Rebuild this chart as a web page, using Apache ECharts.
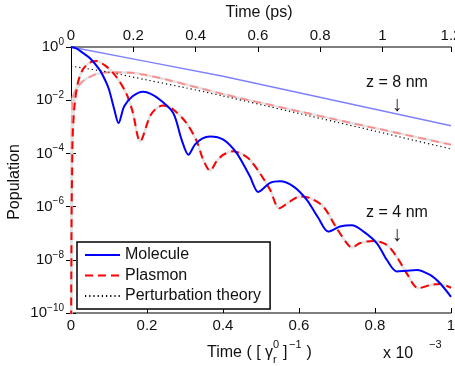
<!DOCTYPE html>
<html><head><meta charset="utf-8">
<script src="https://cdn.jsdelivr.net/npm/echarts@6/dist/echarts.min.js"></script>
<style>html,body{margin:0;padding:0;background:#fff}#c{width:455px;height:366px}</style>
</head><body><div id="c"></div>
<script>
// x in units of 1e-3 [gamma_r^0]^-1 ; y stored as log10(population)
const molecule4X = [0,0.015,0.031,0.05,0.075,0.09,0.10,0.114,0.125,0.14,0.162,0.19,0.21,0.234,0.269,0.291,0.309,0.326,0.345,0.366,0.401,0.436,0.471,0.493,0.524,0.55,0.585,0.62,0.651,0.677,0.708,0.739,0.77,0.805,0.831,0.857,0.883,0.91,0.945,0.971,1.0];
const molecule4Log = [0,-0.06,-0.22,-0.42,-0.85,-1.25,-1.6,-2.35,-2.86,-2.23,-1.85,-1.68,-1.76,-1.98,-2.48,-3.48,-4.05,-3.67,-3.44,-3.36,-3.48,-3.99,-4.87,-5.45,-5.11,-5.05,-5.24,-5.74,-6.43,-6.94,-6.75,-6.70,-6.94,-7.38,-8.0,-8.44,-8.41,-8.38,-8.57,-8.88,-9.39];
const plasmon4X = [0.0004,0.0015,0.003,0.004,0.009,0.018,0.031,0.048,0.066,0.092,0.118,0.145,0.162,0.182,0.208,0.226,0.243,0.269,0.304,0.331,0.348,0.366,0.383,0.401,0.427,0.453,0.471,0.497,0.524,0.548,0.576,0.603,0.629,0.664,0.699,0.726,0.739,0.761,0.796,0.831,0.857,0.883,0.914,0.945,0.971,1.0];
const plasmon4Log = [-10.2,-6.5,-4.6,-3.5,-2.23,-1.35,-0.85,-0.6,-0.53,-0.72,-1.1,-1.73,-2.42,-3.55,-2.6,-2.29,-2.2,-2.35,-2.86,-3.55,-4.24,-4.65,-4.3,-4.05,-3.92,-4.05,-4.24,-4.74,-5.37,-6.06,-5.81,-5.62,-5.68,-6.0,-6.81,-7.38,-7.54,-7.37,-7.29,-7.44,-7.88,-8.5,-9.07,-8.95,-8.91,-9.05];
const molecule8X = [0,0.2,0.4,0.6,0.8,1.0];
const molecule8Log = [0,-0.55,-1.1,-1.72,-2.34,-2.96];
const plasmon8X = [0.0004,0.0015,0.004,0.013,0.031,0.057,0.083,0.11,0.162,0.193,0.25,0.34,0.4,0.5,0.6,0.7,0.8,0.9,1.0];
const plasmon8Log = [-10.2,-4.5,-1.98,-1.6,-1.29,-1.07,-0.97,-0.95,-0.97,-1.04,-1.22,-1.55,-1.77,-2.1,-2.42,-2.74,-3.05,-3.36,-3.67];
const pert8X = [0,0.1,0.2,0.3,0.4,0.5,0.6,0.7,0.8,0.9,1.0];
const pert8Log = [-0.72,-0.95,-1.24,-1.53,-1.84,-2.17,-2.5,-2.83,-3.16,-3.5,-3.83];

const FONT = '"Liberation Sans", Arial, Helvetica, sans-serif';
const toData = (xs, ls) => xs.map((x, i) => [x, Math.pow(10, ls[i])]);
const sup = v => { const e = Math.round(Math.log10(v)); return '{a|10}{b|' + (e === 0 ? '0' : '\u2212' + Math.abs(e)) + '}'; };

const chart = echarts.init(document.getElementById('c'), null, {renderer: 'canvas'});
const tickStyle = {show: true, inside: true, length: 5, lineStyle: {color: '#000', width: 1}};
const lineBase = {type: 'line', symbol: 'none', showSymbol: false, smooth: 0.3, clip: true, xAxisIndex: 0, yAxisIndex: 0};

function txt(x, y, text, size, align) {
  return {type: 'text', x: x, y: y,
    style: {text: text, font: size + 'px ' + FONT, fill: '#111', textAlign: align || 'left', textVerticalAlign: 'middle'}};
}

chart.setOption({
  animation: false,
  backgroundColor: '#fff',
  textStyle: {fontFamily: FONT},
  grid: {left: 71, right: 4, top: 47, bottom: 53, containLabel: false, outerBoundsMode: 'none'},
  xAxis: [
    {type: 'value', position: 'bottom', min: 0, max: 1, interval: 0.2,
     axisLine: {lineStyle: {color: '#555', width: 1.5}}, axisTick: tickStyle,
     splitLine: {show: false},
     axisLabel: {color: '#111', fontSize: 15, margin: 5, fontFamily: FONT, hideOverlap: false,
       formatter: v => String(+v.toFixed(1))}},
    {type: 'value', position: 'top', min: 0, max: 1.22, interval: 0.2,
     axisLine: {lineStyle: {color: '#555', width: 1.5}}, axisTick: tickStyle,
     splitLine: {show: false},
     axisLabel: {color: '#111', fontSize: 15, margin: 4, fontFamily: FONT, showMaxLabel: true, hideOverlap: false,
       formatter: v => String(+v.toFixed(1))}}
  ],
  yAxis: [
    {type: 'log', logBase: 10, min: 1e-10, max: 1, interval: 2, position: 'left',
     axisLine: {show: true, lineStyle: {color: '#000', width: 1}}, axisTick: tickStyle,
     splitLine: {show: false}, minorTick: {show: false},
     axisLabel: {color: '#111', margin: 7, formatter: sup, fontFamily: FONT,
       rich: {a: {fontSize: 15, fontFamily: FONT, color: '#111'},
              b: {fontSize: 10, fontFamily: FONT, color: '#111', padding: [0, 0, 10, 0]}}}},
    {type: 'log', logBase: 10, min: 1e-10, max: 1, interval: 2, position: 'right',
     axisLine: {show: true, lineStyle: {color: '#000', width: 1}}, axisTick: tickStyle,
     splitLine: {show: false}, axisLabel: {show: false}}
  ],
  legend: {
    data: ['Molecule', 'Plasmon', 'Perturbation theory'],
    orient: 'vertical', left: 77, top: 242,
    backgroundColor: '#fff', borderColor: '#000', borderWidth: 1.5, borderRadius: 0,
    padding: [5, 9, 5, 7], itemGap: 4.5, itemWidth: 35, itemHeight: 14,
    itemStyle: {opacity: 0, borderWidth: 0},
    textStyle: {fontSize: 16, color: '#111', fontFamily: FONT}
  },
  series: [
    Object.assign({}, lineBase, {name: 'Molecule z8', data: toData(molecule8X, molecule8Log), smooth: false,
      lineStyle: {color: '#8080ff', width: 1.5}, itemStyle: {color: '#8080ff'}}),
    Object.assign({}, lineBase, {name: 'gray8', data: toData(plasmon8X, plasmon8Log),
      lineStyle: {color: '#e2e2e2', width: 2.5}, itemStyle: {color: '#e2e2e2'}}),
    Object.assign({}, lineBase, {name: 'Plasmon z8', data: toData(plasmon8X, plasmon8Log),
      lineStyle: {color: '#ff8c8c', width: 1.8, type: [8, 5]}, itemStyle: {color: '#ff8c8c'}}),
    Object.assign({}, lineBase, {name: 'Perturbation theory', data: toData(pert8X, pert8Log),
      lineStyle: {color: '#000', width: 1.2, type: [1.2, 3]}, itemStyle: {color: '#000'}}),
    Object.assign({}, lineBase, {name: 'gray4', data: toData(plasmon4X, plasmon4Log),
      lineStyle: {color: '#e2e2e2', width: 2.5}, itemStyle: {color: '#e2e2e2'}}),
    Object.assign({}, lineBase, {name: 'Plasmon', data: toData(plasmon4X, plasmon4Log),
      lineStyle: {color: '#ff0000', width: 2, type: [8, 5]}, itemStyle: {color: '#ff0000'}}),
    Object.assign({}, lineBase, {name: 'Molecule', data: toData(molecule4X, molecule4Log),
      lineStyle: {color: '#0000ff', width: 2}, itemStyle: {color: '#0000ff'}})
  ],
  graphic: [
    {type: 'text', x: 15, y: 182, rotation: Math.PI / 2,
     style: {text: 'Population', font: '16px ' + FONT, fill: '#111', textAlign: 'center', textVerticalAlign: 'middle'}},
    txt(259, 13, 'Time (ps)', 16, 'center'),
    txt(207, 353, 'Time ( [ \u03b3', 16),
    txt(273, 345, '0', 11),
    txt(273, 360, 'r', 11),
    txt(283, 353, ']', 16),
    txt(289, 345, '\u22121', 11),
    txt(302, 353, ' )', 16),
    txt(383, 354, 'x 10', 16),
    txt(429, 345, '\u22123', 11),
    txt(397, 83, 'z = 8 nm', 16, 'center'),
    txt(397, 105, '\u2193', 21, 'center'),
    txt(397, 213, 'z = 4 nm', 16, 'center'),
    txt(397, 235, '\u2193', 21, 'center')
  ]
});
</script></body></html>
